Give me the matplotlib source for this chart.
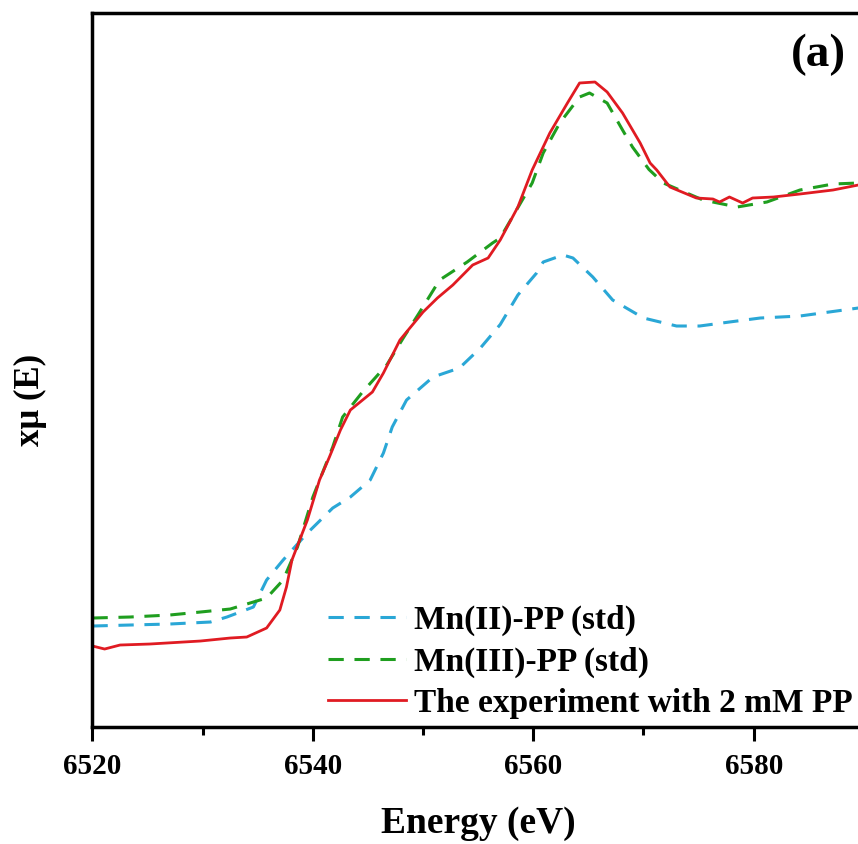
import numpy as np
import matplotlib
matplotlib.use('Agg')
from matplotlib import pyplot as plt

plt.rcParams['font.family'] = ['Liberation Serif', 'DejaVu Serif']
plt.rcParams['font.weight'] = 'bold'

# Mn(II)-PP standard
e_mn2 = [6520.0, 6523.4, 6527.0, 6530.7, 6532.2, 6534.6, 6535.8, 6537.3, 6539.5,
         6541.8, 6543.4, 6545.2, 6546.4, 6547.2, 6548.5, 6550.9, 6553.3, 6555.2,
         6557.0, 6558.6, 6560.3, 6560.9, 6562.7, 6563.6, 6565.4, 6567.2, 6570.0,
         6573.0, 6575.1, 6577.8, 6580.6, 6584.2, 6589.5, 6592.0]
mu_mn2 = [0.202, 0.204, 0.206, 0.210, 0.220, 0.240, 0.294, 0.334, 0.388,
          0.438, 0.460, 0.494, 0.548, 0.600, 0.654, 0.700, 0.718, 0.758,
          0.805, 0.864, 0.908, 0.930, 0.944, 0.938, 0.900, 0.854, 0.818,
          0.802, 0.802, 0.810, 0.818, 0.822, 0.838, 0.842]

# Mn(III)-PP standard
e_mn3 = [6520.0, 6523.4, 6527.0, 6529.8, 6532.5, 6535.8, 6537.3, 6538.6, 6540.0,
         6541.8, 6542.7, 6544.5, 6546.7, 6548.2, 6549.7, 6551.5, 6554.0, 6556.3,
         6557.0, 6559.9, 6560.9, 6562.4, 6564.2, 6565.1, 6566.7, 6568.1, 6569.0,
         6570.0, 6570.5, 6571.8, 6575.4, 6578.5, 6581.2, 6584.2, 6587.2, 6589.5, 6592.0]
mu_mn3 = [0.218, 0.220, 0.224, 0.230, 0.236, 0.258, 0.294, 0.360, 0.460,
          0.560, 0.620, 0.670, 0.724, 0.778, 0.830, 0.894, 0.930, 0.968,
          0.978, 1.088, 1.148, 1.208, 1.260, 1.268, 1.248, 1.194, 1.160,
          1.130, 1.115, 1.088, 1.054, 1.040, 1.050, 1.074, 1.086, 1.088, 1.090]

# experiment with 2 mM PP
e_exp = [6520.0, 6521.1, 6522.5, 6525.2, 6529.8, 6532.5, 6534.0, 6535.8, 6537.0,
         6537.6, 6538.1, 6538.8, 6539.5, 6540.6, 6541.5, 6542.5, 6543.4, 6545.4,
         6546.4, 6547.9, 6550.0, 6551.3, 6552.7, 6554.5, 6555.9, 6557.0, 6558.6,
         6559.9, 6561.5, 6563.1, 6564.2, 6565.6, 6566.7, 6568.1, 6569.7, 6570.6,
         6571.2, 6572.4, 6574.8, 6576.3, 6576.9, 6577.8, 6579.0, 6579.9, 6581.8,
         6584.2, 6587.2, 6589.5, 6592.0]
mu_exp = [0.162, 0.156, 0.164, 0.166, 0.172, 0.178, 0.180, 0.198, 0.234,
          0.280, 0.334, 0.374, 0.414, 0.494, 0.540, 0.594, 0.634, 0.670,
          0.708, 0.774, 0.830, 0.858, 0.884, 0.924, 0.938, 0.974, 1.040,
          1.114, 1.188, 1.248, 1.288, 1.290, 1.270, 1.228, 1.168, 1.128,
          1.114, 1.080, 1.058, 1.056, 1.050, 1.060, 1.048, 1.058, 1.060,
          1.066, 1.074, 1.084, 1.088]

labels = ['Mn(II)-PP (std)', 'Mn(III)-PP (std)', 'The experiment with 2 mM PP']

fig = plt.figure(figsize=(8.58, 8.44), dpi=100)
# axes run past the right edge: the reference is cropped there
ax = fig.add_axes([0.1078, 0.1386, 1.0275, 0.846])

ax.plot(e_mn2, mu_mn2, color='#2aa7d6', lw=2.2, dashes=(5, 3.5), label=labels[0])
ax.plot(e_mn3, mu_mn3, color='#1f9e1f', lw=2.2, dashes=(5, 3.5), label=labels[1])
ax.plot(e_exp, mu_exp, color='#e01b22', lw=2.0, label=labels[2])

ax.set_xlim(6520, 6600)
ax.set_ylim(0, 1.428)
ax.set_xticks([6520, 6540, 6560, 6580])
ax.set_xticks([6530, 6550, 6570, 6590], minor=True)
ax.set_yticks([])
for s in ax.spines.values():
    s.set_linewidth(2.5)
ax.tick_params(axis='x', which='major', direction='out', length=10, width=2.2,
               labelsize=21, pad=9)
ax.tick_params(axis='x', which='minor', direction='out', length=5.5, width=2.2)
for t in ax.get_xticklabels():
    t.set_fontweight('bold')

ax.set_xlabel('Energy (eV)', fontsize=27, fontweight='bold')
ax.xaxis.set_label_coords((478 - 92.5) / (1.0275 * 858), -0.111)
fig.text(30 / 858, 1 - 400 / 844, 'xμ (E)', rotation=90, fontsize=25,
         fontweight='bold', ha='center', va='center')
fig.text(818 / 858, 1 - 55 / 844, '(a)', fontsize=34, fontweight='bold',
         ha='center', va='center')

leg = ax.legend(loc='lower left', bbox_to_anchor=(328 / 858, 0.148),
                bbox_transform=fig.transFigure, frameon=False, fontsize=24,
                handlelength=2.33, handletextpad=0.25, labelspacing=0.31,
                borderpad=0, borderaxespad=0)
for t in leg.get_texts():
    t.set_fontweight('bold')

fig.savefig('out.png', dpi=100)
